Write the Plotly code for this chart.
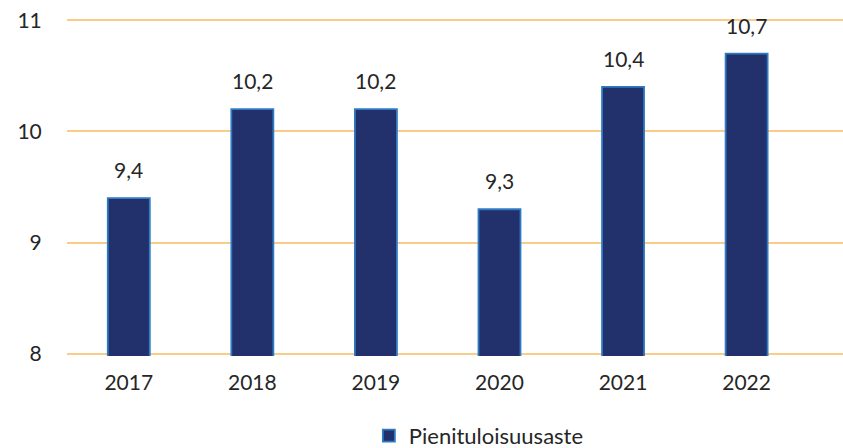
import plotly.graph_objects as go

years = ["2017", "2018", "2019", "2020", "2021", "2022"]
values = [9.4, 10.2, 10.2, 9.3, 10.4, 10.7]
series_name = "Pienituloisuusaste"
y_ticks = [8, 9, 10, 11]

FONT = "Lato, 'Open Sans', sans-serif"
TXT = "#262626"

fig = go.Figure()
fig.add_trace(go.Bar(
    x=list(range(len(years))), y=values, name=series_name,
    marker=dict(color="#22306B", line=dict(color="#2E7BC4", width=1.8)),
    width=0.34, showlegend=True,
))

for i, v in enumerate(values):
    fig.add_annotation(x=i, y=v, text=f"{v:.1f}".replace(".", ","),
                       showarrow=False, yanchor="bottom", yshift=14,
                       font=dict(family=FONT, size=21, color=TXT))

fig.update_layout(
    width=843, height=448,
    margin=dict(l=67, r=0, t=18, b=92, autoexpand=False),
    plot_bgcolor="white", paper_bgcolor="white",
    font=dict(family=FONT, size=21, color=TXT),
    xaxis=dict(tickmode="array", tickvals=list(range(len(years))), ticktext=years,
               range=[-0.5, 5.78], showgrid=False, zeroline=False, showline=False,
               ticks="outside", ticklen=8, tickcolor="rgba(0,0,0,0)"),
    yaxis=dict(range=[7.98, 11.02], tickvals=y_ticks, showgrid=True, gridcolor="#FBCB8A",
               gridwidth=1.5, zeroline=False, showline=False,
               ticks="outside", ticklen=20, tickcolor="rgba(0,0,0,0)",
               ticklabeloverflow="allow"),
    legend=dict(orientation="h", x=0.389, xanchor="left", y=-0.236, yanchor="middle",
                font=dict(family=FONT, size=22, color=TXT)),
)

# remove the browser's default 8px body margin so the figure fills the window
fig.write_html("out.html", config={"displayModeBar": False},
               post_script="document.body.style.margin='0';document.body.style.overflow='hidden';")
